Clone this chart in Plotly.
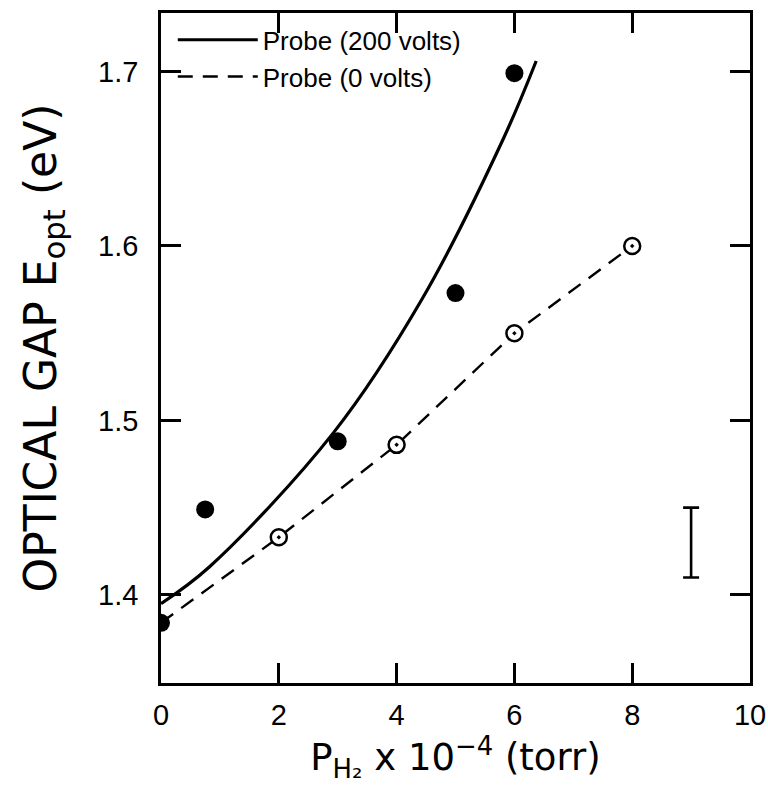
import plotly.graph_objects as go

# Filled circles: Probe (200 volts)
probe200_x = [0, 0.75, 3, 5, 6]
probe200_y = [1.384, 1.449, 1.488, 1.573, 1.699]
# Smooth guide curve for 200 V
curve200_x = [0, 0.82, 2.93, 4.44, 5.82, 6.37]
curve200_y = [1.395, 1.416, 1.493, 1.570, 1.662, 1.706]
# Open circles: Probe (0 volts)
probe0_x = [2, 4, 6, 8]
probe0_y = [1.433, 1.486, 1.550, 1.600]
# Dashed line for 0 V
line0_x = [0, 2, 4, 6, 8]
line0_y = [1.384, 1.433, 1.486, 1.550, 1.600]
# Representative error bar
err_x = [9]
err_y = [1.430]
err_half = [0.020]

x_ticks = [0, 2, 4, 6, 8, 10]
y_ticks = [1.4, 1.5, 1.6, 1.7]

fig = go.Figure()
fig.add_trace(go.Scatter(x=curve200_x, y=curve200_y, mode="lines",
                         line=dict(color="black", width=3.2, shape="spline"),
                         name="Probe (200 volts)"))
fig.add_trace(go.Scatter(x=line0_x, y=line0_y, mode="lines",
                         line=dict(color="black", width=2.4, dash="15px,10px"),
                         name="Probe (0 volts)"))
fig.add_trace(go.Scatter(x=probe200_x, y=probe200_y, mode="markers",
                         marker=dict(symbol="circle", size=18, color="black"),
                         showlegend=False))
fig.add_trace(go.Scatter(x=probe0_x, y=probe0_y, mode="markers",
                         marker=dict(symbol="circle-dot", size=16, color="white",
                                     line=dict(color="black", width=2.5)),
                         showlegend=False))
fig.add_trace(go.Scatter(x=err_x, y=err_y, mode="markers",
                         marker=dict(size=1, color="rgba(0,0,0,0)"),
                         error_y=dict(type="data", array=err_half, visible=True,
                                      color="black", thickness=2.6, width=8),
                         showlegend=False))

axis_common = dict(showline=True, linecolor="black", linewidth=2.5, mirror="ticks",
                   ticks="inside", ticklen=20, tickwidth=2.5, tickcolor="black",
                   showgrid=False, zeroline=False,
                   tickfont=dict(family="Liberation Sans", size=29, color="black"))

fig.update_xaxes(range=[0, 10], tickvals=x_ticks, ticktext=[str(v) for v in x_ticks],
                 ticklabelstandoff=4,
                 title=dict(text="P<sub>H₂</sub> x 10<sup>−4</sup> (torr)",
                            font=dict(family="DejaVu Sans", size=37, color="black"),
                            standoff=0),
                 **axis_common)
fig.update_yaxes(range=[1.3495, 1.7335], tickvals=y_ticks,
                 ticktext=["1.4", "1.5", "1.6", "1.7"],
                 ticklabelstandoff=14,
                 title=dict(text="OPTICAL GAP E<sub>opt</sub> (eV)",
                            font=dict(family="DejaVu Sans", size=44, color="black"),
                            standoff=28),
                 **axis_common)

fig.update_layout(
    width=768, height=812,
    margin=dict(l=161, r=18, t=13, b=129, autoexpand=False),
    paper_bgcolor="white", plot_bgcolor="white",
    showlegend=True,
    legend=dict(x=0.02, y=0.995, xanchor="left", yanchor="top",
                bgcolor="rgba(0,0,0,0)", borderwidth=0,
                itemwidth=80, tracegroupgap=0,
                font=dict(family="Liberation Sans", size=26, color="black")),
)

fig.write_html("out.html")
